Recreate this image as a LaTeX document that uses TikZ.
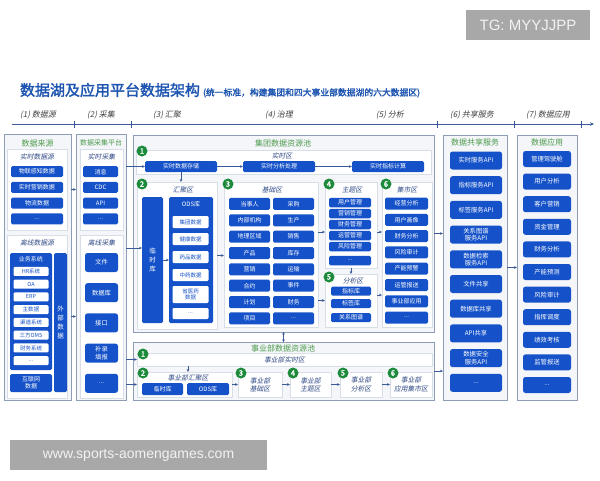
\documentclass[tikz,border=0pt]{standalone}
\usepackage{fontspec}
\setmainfont{Noto Sans CJK SC}[ItalicFont={Noto Sans CJK SC},ItalicFeatures={FakeSlant=0.2},BoldFont={Noto Sans CJK SC},BoldFeatures={FakeBold=2}]
\newfontfamily\wmfont{Liberation Sans}
\usetikzlibrary{arrows.meta}
\definecolor{bluebtn}{HTML}{1552C9}
\definecolor{titleblue}{HTML}{1D55B0}
\definecolor{bordc}{HTML}{8C9DB5}
\definecolor{colbg}{HTML}{F4F6F9}
\definecolor{panelb}{HTML}{D8DEE8}
\definecolor{greenc}{HTML}{1E8B3C}
\definecolor{greent}{HTML}{4C9A4C}
\definecolor{ptitle}{HTML}{2F4A86}
\definecolor{arrc}{HTML}{3B5B98}
\definecolor{wmgray}{HTML}{A8A8A8}
\newcommand\myell{...}
\newcommand\RB[6]{\node[#1, minimum width={#4-#2}, minimum height={#5-#3}] (#6) at ({(#2+#4)/2},{(#3+#5)/2})}
\begin{document}
\begin{tikzpicture}[x=1pt,y=-1pt,
  every node/.style={inner sep=0pt,outer sep=0pt},
  colbox/.style={draw=bordc, fill=colbg, line width=0.8pt},
  panel/.style={draw=panelb, fill=white, line width=0.5pt},
  btn/.style={fill=bluebtn, text=white, rounded corners=1.5pt, align=center, font=\fontsize{6}{7}\selectfont},
  rbtn/.style={btn, rounded corners=2.5pt, font=\fontsize{6.3}{7.3}\selectfont},
  wbtn/.style={fill=white, text=bluebtn, rounded corners=1.2pt, align=center, font=\fontsize{5.5}{6.2}\selectfont},
  num/.style={circle, fill=greenc, text=white, minimum size=11pt, font=\fontsize{7.5}{7.5}\selectfont\bfseries},
  gtitle/.style={text=greent, font=\fontsize{8}{9}\selectfont},
  ptl/.style={text=ptitle, align=center, font=\fontsize{6.8}{8.2}\selectfont\itshape},
  arr/.style={-{Stealth[length=3pt,width=2.6pt]}, draw=arrc, line width=0.5pt},
  phase/.style={text=black!75, font=\fontsize{8}{9}\selectfont\itshape}]
\fill[white] (0,0) rectangle (600,480);
\path[use as bounding box] (0,0) rectangle (600,480);

% watermarks
\node[fill=wmgray, text=white!95!black, minimum width=124, minimum height=30, font=\wmfont\fontsize{15}{15}\selectfont] (wm1) at (528,25) {TG: MYYJJPP};
\node[fill=wmgray, text=white!95!black, minimum width=257, minimum height=30, font=\wmfont\fontsize{14}{14}\selectfont] (wm2) at (138.5,455) {www.sports-aomengames.com};

% title
\node[anchor=west, text=titleblue, font=\fontsize{15}{16}\selectfont\bfseries] (title) at (20,90) {数据湖及应用平台数据架构};
\node[anchor=base west, text=titleblue, font=\fontsize{8.8}{9}\selectfont\bfseries] (subt) at ([xshift=3pt]title.base east) {(统一标准，构建集团和四大事业部数据湖的六大数据区)};

% axis
\coordinate (ax0) at (12,124);
\coordinate (ax1) at (594,124);
\draw[-{Stealth[length=4pt,width=3.5pt]}, draw=arrc, line width=0.9pt] (ax0) -- (ax1);
\foreach \x in {74,131,437,514,581} \draw[arrc, line width=0.7pt] (\x,120.5) -- (\x,127.5);
\foreach \x/\t [count=\i] in {38/{(1) 数据源},101/{(2) 采集},167/{(3) 汇聚},279/{(4) 治理},390/{(5) 分析},472/{(6) 共享服务},548/{(7) 数据应用}}
  \node[phase] (ph\i) at (\x,115) {\t};

% ===== column 1 =====
\RB{colbox}{4}{134}{71}{400}{c1}{};
\node[gtitle] (c1t) at (37.5,143) {数据来源};
\RB{panel}{7}{149}{67}{230}{p1a}{};
\node[ptl] (p1at) at (37,157) {实时数据源};
\foreach \t [count=\i] in {物联感知数据,实时营销数据,物流数据,\myell}
  \node[btn, minimum width=52, minimum height=11] (p1a\i) at (37,{156+15.7*\i}) {\t};
\RB{panel}{7}{235}{67}{398}{p1b}{};
\node[ptl] (p1bt) at (37,243) {离线数据源};
\RB{btn}{10}{253}{52}{370}{biz}{};
\node[text=white, font=\fontsize{6}{6.5}\selectfont] (bizt) at (31,259.5) {业务系统};
\foreach \t [count=\i] in {HR系统,OA,ERP,主数据,渠道系统,三方OMS,财务系统,\myell}
  \node[wbtn, minimum width=35, minimum height=9] (biz\i) at (31,{258.7+12.75*\i}) {\t};
\RB{btn,font=\fontsize{6.5}{9}\selectfont}{54}{253}{67}{392}{ext}{外\\部\\数\\据};
\RB{btn}{10}{374}{52}{392}{inet}{互联网\\数据};

% ===== column 2 =====
\RB{colbox}{76}{134}{126}{400}{c2}{};
\node[gtitle, font=\fontsize{7}{8}\selectfont] (c2t) at (101,143) {数据采集平台};
\RB{panel}{80}{149}{123}{230}{p2a}{};
\node[ptl] (p2at) at (101.5,157) {实时采集};
\foreach \t [count=\i] in {消息,CDC,API,\myell}
  \node[btn, minimum width=35, minimum height=11] (p2a\i) at (100.5,{156+15.7*\i}) {\t};
\RB{panel}{80}{235}{123}{398}{p2b}{};
\node[ptl] (p2bt) at (101.5,243) {离线采集};
\foreach \t [count=\i] in {文件,数据库,接口,{补录\\填报},\myell}
  \node[rbtn, minimum width=33, minimum height=19] (p2b\i) at (101.5,{232.3+30.2*\i}) {\t};

\draw[arr] (c1.east |- p1a.east) -- (c2.west |- p1a.east);
\draw[arr] (c1.east |- p1b.east) -- (c2.west |- p1b.east);

% ===== group pool =====
\RB{colbox}{133}{135}{434}{332}{G}{};
\node[gtitle] (Gt) at (283,143) {集团数据资源池};
\RB{panel}{136}{150}{431}{174}{R1}{};
\node[ptl] (R1t) at (282,155.5) {实时区};
\RB{btn}{145}{161}{217}{172}{rs1}{实时数据存储};
\RB{btn}{243}{161}{315}{172}{rs2}{实时分析处理};
\RB{btn}{352}{161}{424}{172}{rs3}{实时指标计算};
\node[num] (n1) at (142,151) {1};

% 2 汇聚区
\RB{panel}{137}{182}{217}{329}{hj}{};
\node[ptl] (hjt) at (183,190) {汇聚区};
\RB{btn,font=\fontsize{6.5}{9}\selectfont}{142}{197}{163}{323}{tmp}{临\\时\\库};
\RB{btn}{169}{197}{213}{323}{ods}{};
\node[text=white, font=\fontsize{6}{6.5}\selectfont] (odst) at (191,204) {ODS库};
\foreach \t/\y/\h [count=\i] in {集团数据/222/12,健康数据/239/12,药品数据/257/12,中药数据/275/12,{省医药\\数据}/294.5/17,\myell/313.5/11}
  \node[wbtn, minimum width=36, minimum height=\h] (ods\i) at (190.5,\y) {\t};
\node[num] (n2) at (142,184) {2};

% 3 基础区
\RB{panel}{224}{182}{318}{327}{jc}{};
\node[ptl] (jct) at (272,190) {基础区};
\foreach \a/\b [count=\i] in {当事人/采购,内部机构/生产,地理区域/销售,产品/库存,营销/运输,合约/事件,计划/财务,项目/\myell}{
  \node[btn, minimum width=41, minimum height=12] (jcl\i) at (249.5,{187.6+16.35*\i}) {\a};
  \node[btn, minimum width=41, minimum height=12] (jcr\i) at (293.5,{187.6+16.35*\i}) {\b};
}
\node[num] (n3) at (228,184) {3};

% 4 主题区
\RB{panel}{325}{182}{377}{268}{zt}{};
\node[ptl] (ztt) at (352,190) {主题区};
\foreach \t/\y [count=\i] in {用户管理/202.5,营销管理/213.5,财务管理/224.5,运营管理/235.5,风险管理/246.5,\myell/260.5}
  \node[btn, minimum width=42, minimum height=9.5] (zt\i) at (350,\y) {\t};
\node[num] (n4) at (329,184) {4};

% 5 分析区
\RB{panel}{325}{274}{377}{327}{fx}{};
\node[ptl] (fxt) at (353,280.5) {分析区};
\foreach \t/\y [count=\i] in {指标库/291,标签库/303.5,关系图谱/317.5}
  \node[btn, minimum width=40, minimum height=9] (fx\i) at (351,\y) {\t};
\node[num] (n5) at (329,277) {5};

% 6 集市区
\RB{panel}{382}{182}{432}{327}{js}{};
\node[ptl] (jst) at (407,190) {集市区};
\foreach \t [count=\i] in {经营分析,用户画像,财务分析,风险审计,产能预警,运管报送,事业部应用,\myell}
  \node[btn, minimum width=43, minimum height=12] (js\i) at (406.5,{187.2+16.3*\i}) {\t};
\node[num] (n6) at (386,184) {6};

% arrows in group pool
\coordinate (yA) at (0,232);
\coordinate (yC) at (0,295);
\coordinate (yD) at (0,248);
\draw[arr] (rs1.east) -- (rs2.west);
\draw[arr] (rs2.east) -- (rs3.west);
\draw[arr] (rs1.south) -- (rs1.south |- hj.north);
\draw[arr] (hj.east) -- (hj.east -| jc.west);
\draw[arr] (tmp.east) -- (tmp.east -| ods.west);
\draw[arr] (jc.east |- yA) -- (zt.west |- yA);
\draw[arr] (jc.east |- fx.west) -- (fx.west);
\draw[arr] (zt.south) -- (fx.north);
\draw[arr] (zt.east |- yA) -- (js.west |- yA);
\draw[arr] (fx.east |- yC) -- (js.west |- yC);
\draw[arr] (c2.east |- rs1.west) -- (rs1.west);
\draw[arr] (c2.east |- yD) -- (tmp.west |- yD);

% ===== business unit pool =====
\RB{colbox}{133}{342}{434}{400}{B}{};
\node[gtitle] (Bt) at (283,348) {事业部数据资源池};
\RB{panel,ptl}{137}{353}{432}{366}{brt}{事业部实时区};
\node[num] (bn1) at (143,354) {1};
\RB{panel}{137}{372}{232}{397}{bhj}{};
\node[ptl] (bhjt) at (188,377.5) {事业部汇聚区};
\RB{btn}{142}{383}{183}{395}{btmp}{临时库};
\RB{btn}{187}{383}{229}{395}{bods}{ODS库};
\node[num] (bn2) at (143,373) {2};
\RB{panel,ptl}{238}{372}{282}{397}{b3}{事业部\\基础区};
\RB{panel,ptl}{290}{372}{331}{397}{b4}{事业部\\主题区};
\RB{panel,ptl}{340}{372}{382}{397}{b5}{事业部\\分析区};
\RB{panel,ptl}{390}{372}{432}{397}{b6}{事业部\\应用集市区};
\node[num] (bn3) at (241,373) {3};
\node[num] (bn4) at (293,373) {4};
\node[num] (bn5) at (343,373) {5};
\node[num] (bn6) at (393,373) {6};
\draw[arr] (bhj.east) -- (b3.west);
\draw[arr] (b3.east) -- (b4.west);
\draw[arr] (b4.east) -- (b5.west);
\draw[arr] (b5.east) -- (b6.west);
\draw[arr] (brt.south -| bhjt) -- (bhj.north -| bhjt);
\draw[arr] (c2.east |- brt.west) -- (brt.west);
\draw[arr] (c2.east |- bhj.west) -- (bhj.west);
\draw[{Stealth[length=2.5pt,width=2.5pt]}-{Stealth[length=2.5pt,width=2.5pt]}, draw=arrc, line width=0.6pt] (G.south) -- (B.north);

% ===== column 6 =====
\RB{colbox}{443}{135}{507}{400}{S}{};
\node[gtitle] (St) at (475,142.5) {数据共享服务};
\foreach \t [count=\i] in {实时服务API,指标服务API,标签服务API,{关系图谱\\服务API},{数据检索\\服务API},文件共享,数据库共享,API共享,{数据安全\\服务API},\myell}
  \node[rbtn, minimum width=52, minimum height=18] (s\i) at (476,{135.8+24.7*\i}) {\t};

% ===== column 7 =====
\RB{colbox}{517}{135}{577}{400}{A}{};
\node[gtitle] (At) at (547,142.5) {数据应用};
\foreach \t [count=\i] in {管理驾驶舱,用户分析,客户营销,资金管理,财务分析,产能预测,风险审计,指挥调度,绩效考核,监管报送,\myell}
  \node[rbtn, minimum width=48, minimum height=16] (a\i) at (547,{136.4+22.6*\i}) {\t};

\draw[arr] (G.east) -- (G.east -| S.west);
\draw[arr] (B.east) -- (B.east -| S.west);
\draw[arr] (S.east) -- (S.east -| A.west);
\end{tikzpicture}
\end{document}
